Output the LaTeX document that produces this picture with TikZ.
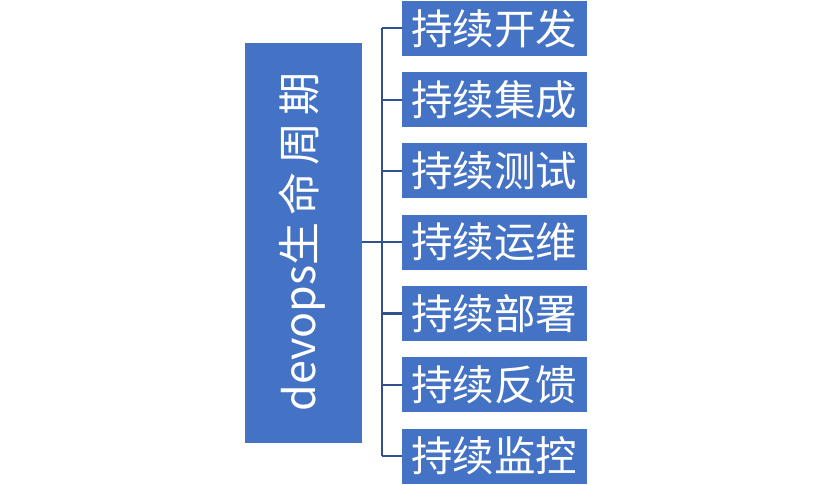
\documentclass[tikz,border=0pt]{standalone}
\usepackage{fontspec}
\setmainfont{Noto Sans CJK SC}
\begin{document}
\begin{tikzpicture}[x=1pt,y=-1pt,
  box/.style={fill=boxblue, draw=none, inner sep=0pt, text=white},
  item/.style={box, minimum width=185, minimum height=55, font=\fontsize{41.5}{44}\selectfont},
  conn/.style={draw=lineblue, line width=2.2pt}]
\definecolor{boxblue}{HTML}{4472C4}
\definecolor{lineblue}{HTML}{2F528F}
\useasboundingbox (0,0) rectangle (831,485);
\node[box, minimum width=116.7, minimum height=399.7, anchor=north west] (root) at (245,43) {};
\node[text=white, rotate=90, font=\fontsize{43}{46}\selectfont, inner sep=0pt] (roottxt) at (302,242) {devops生\,命\,周\,期};
\foreach \t [count=\i] in {持续开发,持续集成,持续测试,持续运维,持续部署,持续反馈,持续监控}{
  \node[item] (c\i) at (494.2, {28.3+(\i-1)*71.3}) {\t};
}
\coordinate (j) at (382,242.2);
\draw[conn] (root.east |- j) -- (j);
\draw[conn] (j |- c1.west) -- (j |- c7.west);
\foreach \i in {1,...,7}{
  \draw[conn] (j |- c\i.west) -- (c\i.west);
}
\end{tikzpicture}
\end{document}
